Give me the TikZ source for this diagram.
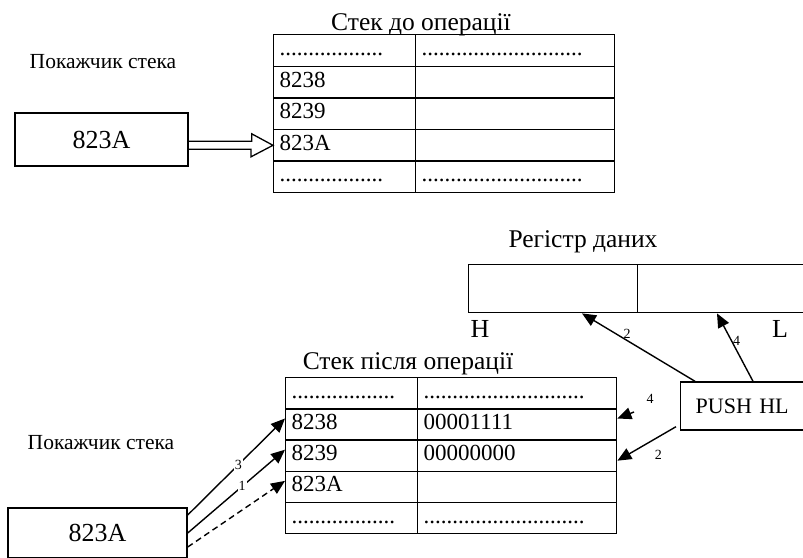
\documentclass[tikz,border=0pt]{standalone}
\usepackage{fontspec}
\setmainfont{Liberation Serif}
\usetikzlibrary{arrows.meta,positioning}

\newcommand\tabfont{\fontsize{23}{27}\selectfont}
\newcommand\ttlfont{\fontsize{25.5}{30}\selectfont}
\newcommand\lblfont{\fontsize{21.5}{25}\selectfont}
\newcommand\boxfont{\fontsize{26}{31}\selectfont}
\newcommand\cmdfont{\fontsize{22}{26}\selectfont}
\newcommand\numfont{\fontsize{14}{16}\selectfont}

\begin{document}
\begin{tikzpicture}[x=1pt,y=-1pt,>={Triangle[length=14pt,width=12pt]},
  cell/.style={draw,line width=1.4pt,anchor=north west,inner xsep=6pt,inner ysep=0pt,align=left,text height=16pt,text depth=6pt,font=\tabfont},
  colA/.style={cell,text width=130pt,minimum height=31.6pt},
  colB/.style={cell,text width=187pt,minimum height=31.6pt},
  colC/.style={cell,text width=120pt,minimum height=31.2pt},
  colD/.style={cell,text width=187pt,minimum height=31.2pt},
  ttl/.style={anchor=base,font=\ttlfont},
  caption/.style={anchor=base,font=\lblfont},
  ptrbox/.style={draw,line width=1.4pt,font=\boxfont},
  regcell/.style={draw,line width=1.4pt,anchor=north west,minimum height=48pt,inner sep=0pt},
  num/.style={font=\numfont,inner sep=1pt},
  link/.style={->,line width=1.4pt}]
\useasboundingbox (0,0) rectangle (803,557);
\clip (0,0) rectangle (803,557);

% stack before PUSH
\node[ttl] (ttl_before) at (421,30) {Стек до операції};
\node[caption] (sp_before) at (103,68) {Покажчик стека};
\node[ptrbox,minimum width=173pt,minimum height=53pt] (ptr_before) at (101.5,139.5) {823A};
\node[colA] (t1) at (273,34) {..................};
\node[colB] (t1r) at (415,34) {............................};
\node[colA] (t2) at (273,65.6) {8238};
\node[colB] (t2r) at (415,65.6) {};
\node[colA] (t3) at (273,97.2) {8239};
\node[colB] (t3r) at (415,97.2) {};
\node[colA] (t4) at (273,128.8) {823A};
\node[colB] (t4r) at (415,128.8) {};
\node[colA] (t5) at (273,160.4) {..................};
\node[colB] (t5r) at (415,160.4) {............................};
% hollow pointer arrow
\coordinate (dbl_tail) at (ptr_before.east |- t4.west);
\draw[line width=1.3pt,line join=miter] ([yshift=4pt]dbl_tail) -- ++(63,0) -- ++(0,-7.5) -- (t4.west) -- ++(-22,11.5) -- ++(0,-7.5) -- ([yshift=-4pt]dbl_tail);

% data register
\node[ttl] (ttl_reg) at (583,247) {Регістр даних};
\node[regcell,minimum width=169pt] (reg_h) at (468,264) {};
\node[regcell,minimum width=180pt] (reg_l) at (637,264) {};
\node[anchor=base,font=\boxfont] (lbl_h) at (480,337) {H};
\node[anchor=base,font=\boxfont] (lbl_l) at (780,337) {L};
\node[draw,line width=1.4pt,anchor=west,minimum height=48pt,text width=110pt,inner xsep=15pt,align=left,font=\cmdfont] (push) at (680,406) {PUSH HL};

% stack after PUSH
\node[ttl] (ttl_after) at (408,369) {Стек після операції};
\node[caption] (sp_after) at (101,449) {Покажчик стека};
\node[ptrbox,minimum width=179pt,minimum height=50pt] (ptr_after) at (97.5,533) {823A};
\node[colC] (b1) at (285,377) {..................};
\node[colD] (b1r) at (417,377) {............................};
\node[colC] (b2) at (285,408.2) {8238};
\node[colD] (b2r) at (417,408.2) {00001111};
\node[colC] (b3) at (285,439.4) {8239};
\node[colD] (b3r) at (417,439.4) {00000000};
\node[colC] (b4) at (285,470.6) {823A};
\node[colD] (b4r) at (417,470.6) {};
\node[colC] (b5) at (285,501.8) {..................};
\node[colD] (b5r) at (417,501.8) {............................};

% pointer moves
\draw[link] ([yshift=18pt]ptr_after.east) -- node[num,fill=white,pos=.52]{3} ([yshift=6pt]b2.west);
\draw[link] (ptr_after.east) -- node[num,fill=white,pos=.56]{1} ([yshift=6pt]b3.west);
\draw[link,dash pattern=on 6pt off 4pt] ([yshift=-14pt]ptr_after.east) -- ([yshift=6pt]b4.west);

% register halves and writes
\draw[link] ([xshift=15pt]push.north west) -- node[num,pos=.6,above]{2} ([xshift=114pt]reg_h.south west);
\draw[link] ([xshift=73pt]push.north west) -- node[num,pos=.6,right]{4} ([xshift=80pt]reg_l.south west);
\coordinate (tail_l) at (634,412);
\draw[link] (tail_l) -- node[num,pos=0,xshift=16pt,yshift=13pt]{4} ([yshift=6pt]b2r.east);
\draw[link] ([xshift=-4pt,yshift=4pt]push.south west) -- node[num,pos=.3,below=12pt]{2} ([yshift=-5pt]b3r.east);
\end{tikzpicture}
\end{document}
